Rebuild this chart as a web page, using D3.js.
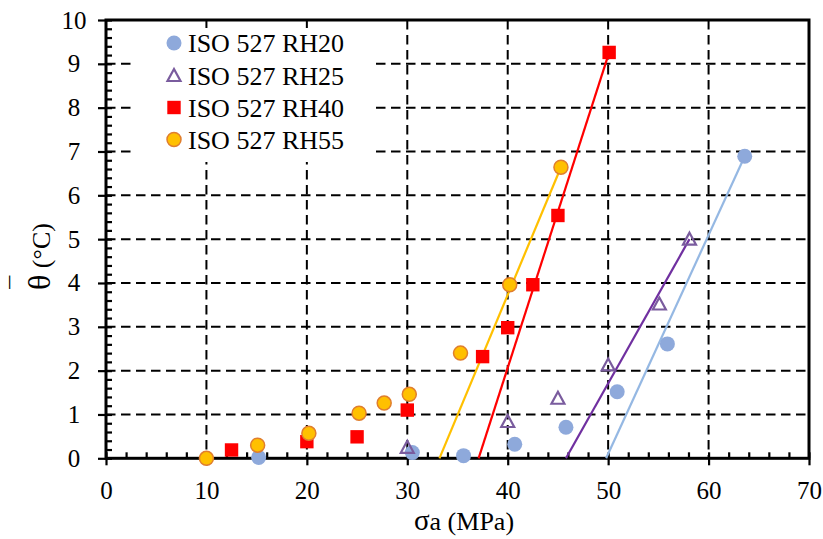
<!DOCTYPE html>
<html>
<head>
<meta charset="utf-8">
<script src="https://cdn.jsdelivr.net/npm/d3@7"></script>
<style>
  html, body { margin: 0; padding: 0; background: #fff; }
  svg { display: block; font-family: "Liberation Serif", "Times New Roman", serif; }
</style>
</head>
<body>
<svg id="chart" width="823" height="539"></svg>
<script>
// ---- data ----
const xTicks = [0, 10, 20, 30, 40, 50, 60, 70];
const yTicks = [0, 1, 2, 3, 4, 5, 6, 7, 8, 9, 10];
const seriesNames = ["ISO 527 RH20", "ISO 527 RH25", "ISO 527 RH40", "ISO 527 RH55"];

const rh20X = [15.2, 30.5, 35.6, 40.7, 45.8, 50.9, 55.9, 63.6];
const rh20Y = [0.02, 0.13, 0.06, 0.32, 0.71, 1.52, 2.61, 6.89];
const rh25X = [30.0, 40.0, 45.0, 50.0, 55.1, 58.1];
const rh25Y = [0.25, 0.84, 1.37, 2.13, 3.52, 5.00];
const rh40X = [12.5, 20.0, 25.0, 30.0, 37.5, 40.0, 42.5, 45.0, 50.1];
const rh40Y = [0.19, 0.38, 0.49, 1.10, 2.32, 2.98, 3.96, 5.54, 9.26];
const rh55X = [10.0, 15.1, 20.2, 25.2, 27.7, 30.2, 35.3, 40.2, 45.3];
const rh55Y = [0.00, 0.30, 0.57, 1.03, 1.26, 1.46, 2.40, 3.96, 6.64];

// trend lines (start at theta = 0, end at last point)
const rh20FitX = [49.8, 63.6], rh20FitY = [0, 6.89];
const rh25FitX = [45.8, 58.1], rh25FitY = [0, 5.00];
const rh40FitX = [37.1, 50.1], rh40FitY = [0, 9.26];
const rh55FitX = [33.2, 45.3], rh55FitY = [0, 6.64];

// ---- chart ----
const svg = d3.select("#chart");
const L = 106, R = 809, T = 20, B = 458.3;
const x = d3.scaleLinear().domain([0, 70]).range([L, R]);
const y = d3.scaleLinear().domain([0, 10]).range([B, T]);

const FONT = 25;

// gridlines
const grid = svg.append("g").attr("stroke", "#000").attr("stroke-width", 2)
  .attr("stroke-dasharray", "9.5,5.5");
grid.selectAll("line.h").data(yTicks.slice(1, -1)).join("line")
  .attr("x1", L).attr("x2", R).attr("y1", d => y(d)).attr("y2", d => y(d));
grid.selectAll("line.v").data(xTicks.slice(1, -1)).join("line")
  .attr("x1", d => x(d)).attr("x2", d => x(d)).attr("y1", T).attr("y2", B);

// legend background (hides gridlines)
svg.append("rect").attr("x", 133).attr("y", 28).attr("width", 242).attr("height", 134)
  .attr("fill", "#fff");

// axes
const minorY = d3.range(0, 10.001, 0.2);
const minorX = d3.range(0, 70.001, 2);

const gyMinor = svg.append("g").attr("transform", `translate(${L},0)`)
  .call(d3.axisRight(y).tickValues(minorY).tickSize(6).tickFormat(""));
const gxMinor = svg.append("g").attr("transform", `translate(0,${B})`)
  .call(d3.axisTop(x).tickValues(minorX).tickSize(6).tickFormat(""));

const gy = svg.append("g").attr("transform", `translate(${L},0)`)
  .call(d3.axisLeft(y).tickValues(yTicks).tickSize(8).tickPadding(24).tickFormat(d3.format("d")));
const gx = svg.append("g").attr("transform", `translate(0,${B})`)
  .call(d3.axisBottom(x).tickValues(xTicks).tickSize(7).tickPadding(16).tickFormat(d3.format("d")));

[gyMinor, gxMinor, gy, gx].forEach(g => {
  g.select(".domain").remove();
  g.selectAll(".tick line").attr("stroke", "#000").attr("stroke-width", 2.2);
  g.selectAll("text").attr("font-family", "Liberation Serif").attr("font-size", FONT).attr("fill", "#000");
});
gy.selectAll(".tick text").attr("text-anchor", "middle").attr("x", -32);

// frame
svg.append("rect").attr("x", L).attr("y", T).attr("width", R - L).attr("height", B - T)
  .attr("fill", "none").attr("stroke", "#000").attr("stroke-width", 3);

// series definitions
const series = [
  { name: seriesNames[0], xs: rh20X, ys: rh20Y, fx: rh20FitX, fy: rh20FitY, line: "#95B8E3", shape: "circle", fill: "#8EA9DB", stroke: "none" },
  { name: seriesNames[1], xs: rh25X, ys: rh25Y, fx: rh25FitX, fy: rh25FitY, line: "#7030A0", shape: "triangle", fill: "none", stroke: "#7A5C9E" },
  { name: seriesNames[2], xs: rh40X, ys: rh40Y, fx: rh40FitX, fy: rh40FitY, line: "#FF0000", shape: "square", fill: "#FF0000", stroke: "none" },
  { name: seriesNames[3], xs: rh55X, ys: rh55Y, fx: rh55FitX, fy: rh55FitY, line: "#FFC000", shape: "circle", fill: "#FFC000", stroke: "#E07E2E" }
];

function drawMarker(g, s, cx, cy) {
  if (s.shape === "circle") {
    g.append("circle").attr("cx", cx).attr("cy", cy).attr("r", s.stroke === "none" ? 7.5 : 7)
      .attr("fill", s.fill).attr("stroke", s.stroke).attr("stroke-width", 1.5);
  } else if (s.shape === "square") {
    g.append("rect").attr("x", cx - 6.7).attr("y", cy - 6.7).attr("width", 13.4).attr("height", 13.4)
      .attr("fill", s.fill);
  } else {
    g.append("path").attr("d", `M${cx},${cy - 6.5}L${cx + 6.5},${cy + 5.5}L${cx - 6.5},${cy + 5.5}Z`)
      .attr("fill", "none").attr("stroke", s.stroke).attr("stroke-width", 2.2).attr("stroke-linejoin", "miter");
  }
}

// trend lines
const lineGen = d3.line().x(d => x(d[0])).y(d => y(d[1]));
series.forEach(s => {
  svg.append("path").datum(d3.zip(s.fx, s.fy)).attr("d", lineGen)
    .attr("fill", "none").attr("stroke", s.line).attr("stroke-width", 2.2);
});

// markers
series.forEach(s => {
  const g = svg.append("g");
  d3.zip(s.xs, s.ys).forEach(p => drawMarker(g, s, x(p[0]), y(p[1])));
});

// legend
const legendRows = [43, 75.5, 107.5, 139.5];
series.forEach((s, i) => {
  const g = svg.append("g");
  drawMarker(g, s, 174, legendRows[i]);
  g.append("text").attr("x", 188).attr("y", legendRows[i] + 9)
    .attr("font-size", 26).attr("fill", "#000").text(s.name);
});

// axis titles
const xt = svg.append("text").attr("x", 464).attr("y", 530).attr("text-anchor", "middle")
  .attr("font-size", 26).attr("fill", "#000");
xt.append("tspan").attr("font-size", 29).text("σ");
xt.append("tspan").text("a (MPa)");

const yt = svg.append("g").attr("transform", "translate(50,255) rotate(-90)");
const ytText = yt.append("text").attr("x", -35).attr("y", 0).attr("text-anchor", "start")
  .attr("font-size", 26).attr("fill", "#000");
ytText.append("tspan").attr("font-size", 32).text("θ");
ytText.append("tspan").text(" (°C)");
const thetaW = ytText.node().getSubStringLength(0, 1);
yt.append("text").attr("x", -35 + thetaW / 2).attr("y", -22).attr("text-anchor", "middle")
  .attr("font-size", 26).attr("fill", "#000").text("¯");
</script>
</body>
</html>
